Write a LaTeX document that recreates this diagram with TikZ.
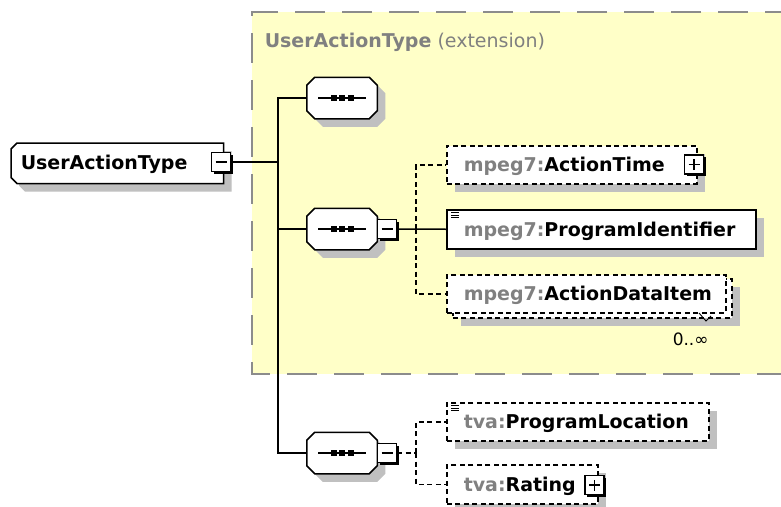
\documentclass[tikz,border=0pt]{standalone}
\usepackage{fontspec}
\setmainfont{DejaVu Sans}
\usetikzlibrary{shadows,calc}
\definecolor{yel}{HTML}{FFFFC8}
\definecolor{shd}{HTML}{C0C0C0}
\definecolor{txtgray}{HTML}{808080}
\definecolor{framecol}{HTML}{8C8C8C}
% chamfered outline of node #1: left chamfer #2, right chamfer #3, offset #4
\newcommand\chpath[4]{($(#1.north west)+(#2+#4,#4)$) -- ($(#1.north east)+(-#3+#4,#4)$) -- ($(#1.north east)+(#4,#3+#4)$) -- ($(#1.south east)+(#4,-#3+#4)$) -- ($(#1.south east)+(-#3+#4,#4)$) -- ($(#1.south west)+(#2+#4,#4)$) -- ($(#1.south west)+(#4,-#2+#4)$) -- ($(#1.north west)+(#4,#2+#4)$) -- cycle}
\begin{document}
\begin{tikzpicture}[x=1pt,y=-1pt,line width=1.5pt,
  gshadow/.style={general shadow={fill=shd, shadow xshift=8pt, shadow yshift=-8pt}},
  elembox/.style={draw=black, fill=white, rectangle, inner sep=0, anchor=north west, gshadow},
  optline/.style={dash pattern=on 5pt off 3.5pt},
  optbox/.style={elembox, optline},
  holder/.style={rectangle, inner sep=0, draw=none},
  btnbase/.style={draw, fill=white, rectangle, minimum size=19pt, inner sep=0, line width=1.3pt,
     general shadow={fill=black, shadow xshift=2.4pt, shadow yshift=-2.4pt}},
  minusbtn/.style={btnbase, path picture={\draw[line width=1.3pt] ([xshift=-5.5pt]path picture bounding box.center) -- ([xshift=5.5pt]path picture bounding box.center);}},
  plusbtn/.style={btnbase, path picture={\draw[line width=1.3pt] ([xshift=-5.5pt]path picture bounding box.center) -- ([xshift=5.5pt]path picture bounding box.center) ([yshift=-5.5pt]path picture bounding box.center) -- ([yshift=5.5pt]path picture bounding box.center);}},
  lbl/.style={anchor=base west, inner sep=0, font=\fontsize{19}{22}\selectfont\bfseries},
  conn/.style={draw=black, line width=1.5pt},
]
\useasboundingbox (0,0) rectangle (781,506);
\fill[white] (0,0) rectangle (781,506);
% extension frame
\fill[yel] (252,12) rectangle (795,374);
\draw[framecol, line width=1.6pt, dash pattern=on 30pt off 17pt] (795,12) -- (252,12) -- (252,374) -- (795,374);
\node[anchor=base west, inner sep=0, text=txtgray, font=\fontsize{19}{22}\selectfont] (title) at (264,47)
  {\textbf{UserActionType} (extension)};

% root
\node[holder, minimum width=211pt, minimum height=39pt, anchor=north west] (root) at (11,143) {};
\fill[shd] \chpath{root}{6}{0}{8};
\draw[fill=white] \chpath{root}{6}{0}{0};
\node[lbl] (rootlbl) at (20,169) {UserActionType};
\node[minusbtn] (rootbtn) at (221,162) {};

% sequences
\node[holder, minimum width=69pt, minimum height=40pt] (seq1) at (342,98) {};
\node[holder, minimum width=69pt, minimum height=40pt] (seq2) at (342,229) {};
\node[holder, minimum width=69pt, minimum height=40pt] (seq3) at (342,453) {};
\foreach \s in {seq1,seq2,seq3}{
  \fill[shd] \chpath{\s}{8}{8}{8};
  \draw[fill=white] \chpath{\s}{8}{8}{0};
  \draw[line width=1.3pt] ($(\s.center)+(-24,0)$) -- ($(\s.center)+(24,0)$);
  \foreach \dx in {-8.5,0,8.5}
    \fill ($(\s.center)+(\dx-3,-3)$) rectangle ($(\s.center)+(\dx+3,3)$);
}
\node[minusbtn] (seq2btn) at (387,229) {};
\node[minusbtn] (seq3btn) at (387,453) {};

% trunk
\coordinate (j1) at (278,162);
\draw[conn] (rootbtn.east) -- (j1);
\draw[conn] (j1) |- (seq1.west);
\draw[conn] (j1) |- (seq3.west);
\draw[conn] (j1 |- seq2.west) -- (seq2.west);

% elements of seq2
\node[optbox, minimum width=250pt, minimum height=38pt] (at) at (446,145) {};
\node[lbl] (atlbl) at ($(at.west)+(17,7)$) {\textcolor{txtgray}{mpeg7:}ActionTime};
\node[plusbtn] (atbtn) at (694,164.5) {};

\node[elembox, minimum width=309pt, minimum height=39pt] (pi) at (446,209) {};
\node[lbl] (pilbl) at ($(pi.west)+(17,7)$) {\textcolor{txtgray}{mpeg7:}ProgramIdentifier};
\foreach \k in {0,1,2} \draw[line width=1pt] (451,212.5+2.6*\k) -- (459,212.5+2.6*\k);

\node[optbox, minimum width=279pt, minimum height=39pt] (adiback) at (452,278) {};
\node[draw=black, fill=white, rectangle, inner sep=0, anchor=north west, optline,
  minimum width=279pt, minimum height=38pt] (adi) at (446,274) {};
\node[lbl] (adilbl) at ($(adi.west)+(17,7)$) {\textcolor{txtgray}{mpeg7:}ActionDataItem};
\draw[line width=0.9pt] (699,313) -- (706,321) -- (711,316);
\node[anchor=base west, inner sep=0, font=\fontsize{17}{20}\selectfont] (occ) at (672,345) {0..∞};

\coordinate (j2) at (416,229);
\draw[conn] (seq2btn.east) -- (pi.west);
\draw[conn, optline] (j2) |- (at.west);
\draw[conn, optline] (j2) |- (adi.west);

% elements of seq3
\node[optbox, minimum width=262pt, minimum height=38pt] (pl) at (446,402) {};
\node[lbl] (pllbl) at ($(pl.west)+(17,7)$) {\textcolor{txtgray}{tva:}ProgramLocation};
\foreach \k in {0,1,2} \draw[line width=1pt] (451,405.5+2.6*\k) -- (459,405.5+2.6*\k);

\node[optbox, minimum width=151pt, minimum height=39pt] (rt) at (446,464) {};
\node[lbl] (rtlbl) at ($(rt.west)+(17,7)$) {\textcolor{txtgray}{tva:}Rating};
\node[plusbtn] (rtbtn) at (594.5,485) {};

\coordinate (j3) at (416,453);
\draw[conn, optline] (seq3btn.east) -- (j3);
\draw[conn, optline] (j3) |- (pl.west);
\draw[conn, optline] (j3) |- (rt.west);
\end{tikzpicture}
\end{document}
